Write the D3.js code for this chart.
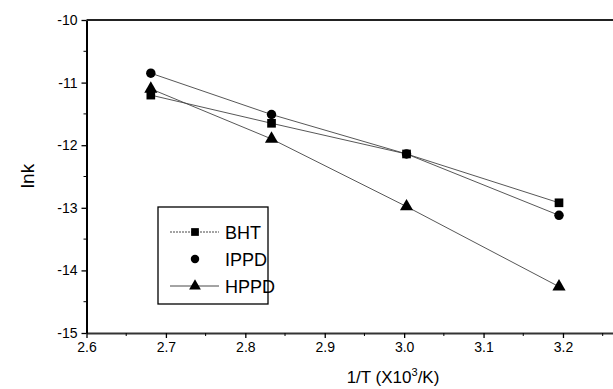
<!DOCTYPE html>
<html>
<head>
<meta charset="utf-8">
<script src="https://cdn.jsdelivr.net/npm/d3@7"></script>
<style>
  body { margin: 0; background: white; }
  svg { display: block; font-family: "Liberation Sans", Arial, sans-serif; }
</style>
</head>
<body>
<div class="display"></div>
<script>
const invT = [2.681, 2.833, 3.003, 3.195];
const bht = [-11.2, -11.65, -12.14, -12.92];
const ippd = [-10.85, -11.51, -12.14, -13.12];
const hppd = [-11.1, -11.9, -12.98, -14.26];
const seriesNames = ['BHT', 'IPPD', 'HPPD'];
const xTicks = [2.6, 2.7, 2.8, 2.9, 3.0, 3.1, 3.2];
const yTicks = [-15, -14, -13, -12, -11, -10];

const width = 613;
const height = 389;

const svg = d3.select('.display')
    .append('svg')
    .attr('width', width)
    .attr('height', height);

const xScale = d3.scaleLinear().domain([2.6, 3.263]).range([86.5, 613]);
const yScale = d3.scaleLinear().domain([-15, -10]).range([333, 20]);

// minor ticks
const xMinor = d3.range(2.65, 3.26, 0.1);
const yMinor = d3.range(-14.5, -10, 1);

const xAxis = d3.axisBottom(xScale)
    .tickValues(xTicks)
    .tickSize(5)
    .tickSizeOuter(0)
    .tickPadding(4)
    .tickFormat(d3.format('.1f'));
const yAxis = d3.axisLeft(yScale)
    .tickValues(yTicks)
    .tickSize(5)
    .tickSizeOuter(0)
    .tickPadding(4)
    .tickFormat(d => d);

const gx = svg.append('g')
    .attr('transform', `translate(0, ${yScale(-15)})`)
    .call(xAxis);
gx.selectAll('.tick').filter(d => d === 2.6).select('line').attr('y1', -10).attr('y2', 5);
gx.append('g').selectAll('line')
    .data(xMinor)
    .join('line')
    .attr('x1', d => xScale(d)).attr('x2', d => xScale(d))
    .attr('y1', 0).attr('y2', 3)
    .attr('stroke', '#000');

const gy = svg.append('g')
    .attr('transform', `translate(${xScale(2.6)}, 0)`)
    .call(yAxis);
gy.append('g').selectAll('line')
    .data(yMinor)
    .join('line')
    .attr('y1', d => yScale(d)).attr('y2', d => yScale(d))
    .attr('x1', 0).attr('x2', -3)
    .attr('stroke', '#000');

[gx, gy].forEach(g => {
    g.select('.domain').attr('stroke', '#000').attr('stroke-width', 2);
    g.selectAll('.tick line').attr('stroke', '#000').attr('stroke-width', 1.3);
    g.selectAll('.tick text').attr('font-size', 14).attr('fill', '#000')
        .attr('font-family', '"Liberation Sans", Arial, sans-serif');
});
gx.select('.domain').attr('stroke', '#333');

// top frame line
svg.append('line')
    .attr('x1', xScale(2.6)).attr('x2', width)
    .attr('y1', yScale(-10)).attr('y2', yScale(-10))
    .attr('stroke', '#222').attr('stroke-width', 1.8);

const series = [bht, ippd, hppd];
const line = d3.line()
    .x((d, i) => xScale(invT[i]))
    .y(d => yScale(d));

series.forEach(s => {
    svg.append('path')
        .datum(s)
        .attr('d', line)
        .attr('fill', 'none')
        .attr('stroke', '#444')
        .attr('stroke-width', 0.9);
});

const symbols = [d3.symbolSquare, d3.symbolCircle, d3.symbolTriangle];
const symSizes = [75, 70, 75];

series.forEach((s, k) => {
    svg.append('g').selectAll('path')
        .data(s)
        .join('path')
        .attr('transform', (d, i) => `translate(${xScale(invT[i])}, ${yScale(d)})`)
        .attr('d', d3.symbol(symbols[k], symSizes[k]))
        .attr('fill', '#000');
});

// legend
const legend = svg.append('g');
legend.append('rect')
    .attr('x', 158).attr('y', 207)
    .attr('width', 110).attr('height', 97)
    .attr('fill', 'white')
    .attr('stroke', '#000').attr('stroke-width', 1.3);

const legendY = [232, 259, 286];
seriesNames.forEach((name, k) => {
    const y = legendY[k];
    if (k !== 1) {
        legend.append('line')
            .attr('x1', 170).attr('x2', 219)
            .attr('y1', y).attr('y2', y)
            .attr('stroke', '#333')
            .attr('stroke-width', 0.9)
            .attr('stroke-dasharray', k === 0 ? '2,1' : null);
    }
    legend.append('path')
        .attr('transform', `translate(195, ${y})`)
        .attr('d', d3.symbol(symbols[k], symSizes[k] * 0.8))
        .attr('fill', '#000');
    legend.append('text')
        .attr('x', 225).attr('y', y + 7)
        .attr('font-size', 18)
        .text(name);
});

// axis titles
svg.append('text')
    .attr('transform', `translate(34, 176) rotate(-90)`)
    .attr('text-anchor', 'middle')
    .attr('font-size', 19)
    .text('lnk');

const xt = svg.append('text')
    .attr('x', 393).attr('y', 383)
    .attr('text-anchor', 'middle')
    .attr('font-size', 17);
xt.append('tspan').text('1/T (X10');
xt.append('tspan').attr('dy', -7).attr('font-size', 11).text('3');
xt.append('tspan').attr('dy', 7).text('/K)');
</script>
</body>
</html>
